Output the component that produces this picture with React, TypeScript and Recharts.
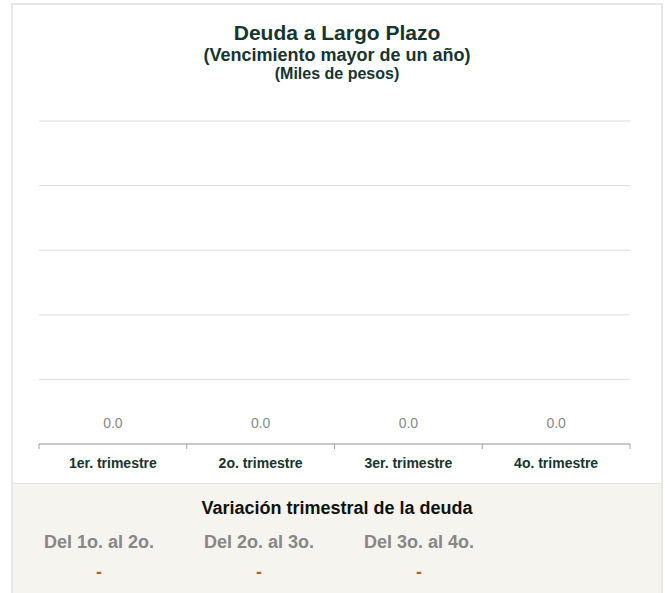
import React from 'react';
import { ComposedChart, Bar, Line, XAxis, YAxis, CartesianGrid, LabelList } from 'recharts';

const categories = ['1er. trimestre', '2o. trimestre', '3er. trimestre', '4o. trimestre'];
const deuda = [0, 0, 0, 0];
const yTicks = [0, 1, 2, 3, 4, 5];
const edgeTicks = [0, 1, 2, 3, 4];
const variacionLabels = ['Del 1o. al 2o.', 'Del 2o. al 3o.', 'Del 3o. al 4o.'];
const variacionValues = ['-', '-', '-'];

// pos = centre of each category band on the 0..4 boundary axis
const data = categories.map((name, i) => ({ name, value: deuda[i], pos: i + 0.5 }));

const FONT = '"Liberation Sans", Arial, Helvetica, sans-serif';
const DARK = '#163430';

const line = (top: number, size: number, color = DARK): React.CSSProperties => ({
  position: 'absolute',
  left: 0,
  top,
  width: 648,
  textAlign: 'center',
  fontSize: size,
  lineHeight: `${size}px`,
  fontWeight: 'bold',
  color,
  whiteSpace: 'nowrap',
});

export default function App() {
  return (
    <div
      style={{
        position: 'absolute',
        left: 11,
        top: 3,
        width: 652,
        height: 590,
        boxSizing: 'border-box',
        border: '2px solid #e6e6e6',
        borderBottom: 'none',
        background: '#fff',
        fontFamily: FONT,
      }}
    >
      <ComposedChart
        width={648}
        height={479}
        data={data}
        margin={{ top: 116, right: 31, left: 26, bottom: 0 }}
        style={{ position: 'absolute', left: 0, top: 0 }}
      >
        <CartesianGrid xAxisId="b_cat" vertical={false} stroke="#dddddd" />
        {/* category boundaries: tick marks hang under the baseline */}
        <XAxis
          xAxisId="a_edges"
          type="number"
          dataKey="pos"
          domain={[0, categories.length]}
          ticks={edgeTicks}
          interval={0}
          allowDataOverflow
          height={6}
          tickFormatter={() => ''}
          tickSize={5}
          tickLine={{ stroke: '#a0a0a0' }}
          stroke="#a0a0a0"
        />
        <XAxis
          xAxisId="b_cat"
          dataKey="name"
          height={34}
          axisLine={false}
          tickLine={false}
          interval={0}
          tick={{ fontSize: 14, fontWeight: 'bold', fill: DARK, fontFamily: FONT }}
        />
        <YAxis hide domain={[0, 5]} ticks={yTicks} />
        <Bar xAxisId="b_cat" dataKey="value" fill="#2f6b5e" isAnimationActive={false} />
        <Line
          xAxisId="b_cat"
          dataKey="value"
          stroke="none"
          dot={false}
          activeDot={false}
          isAnimationActive={false}
        >
          <LabelList
            dataKey="value"
            position="top"
            offset={16}
            formatter={(v: any) => Number(v).toFixed(1)}
            style={{ fontSize: 14, fill: '#888888', fontFamily: FONT }}
          />
        </Line>
      </ComposedChart>

      <div style={line(17, 21)}>Deuda a Largo Plazo</div>
      <div style={line(40.8, 18)}>(Vencimiento mayor de un año)</div>
      <div style={line(60.5, 16)}>(Miles de pesos)</div>

      <div
        style={{
          position: 'absolute',
          left: 0,
          top: 478,
          width: 648,
          height: 110,
          background: '#f5f4ee',
          borderTop: '1px solid #e2e2e2',
        }}
      >
        <div style={line(14.5, 18, '#111111')}>Variación trimestral de la deuda</div>
        <div style={{ position: 'absolute', left: 6, top: 48.5, display: 'flex' }}>
          {variacionLabels.map((label, i) => (
            <div key={label} style={{ width: 160, textAlign: 'center', fontWeight: 'bold' }}>
              <div style={{ fontSize: 18, lineHeight: '18px', color: '#878787', whiteSpace: 'nowrap' }}>{label}</div>
              <div style={{ fontSize: 18, lineHeight: '18px', color: '#c0600c', marginTop: 12 }}>
                {variacionValues[i]}
              </div>
            </div>
          ))}
        </div>
      </div>
    </div>
  );
}
